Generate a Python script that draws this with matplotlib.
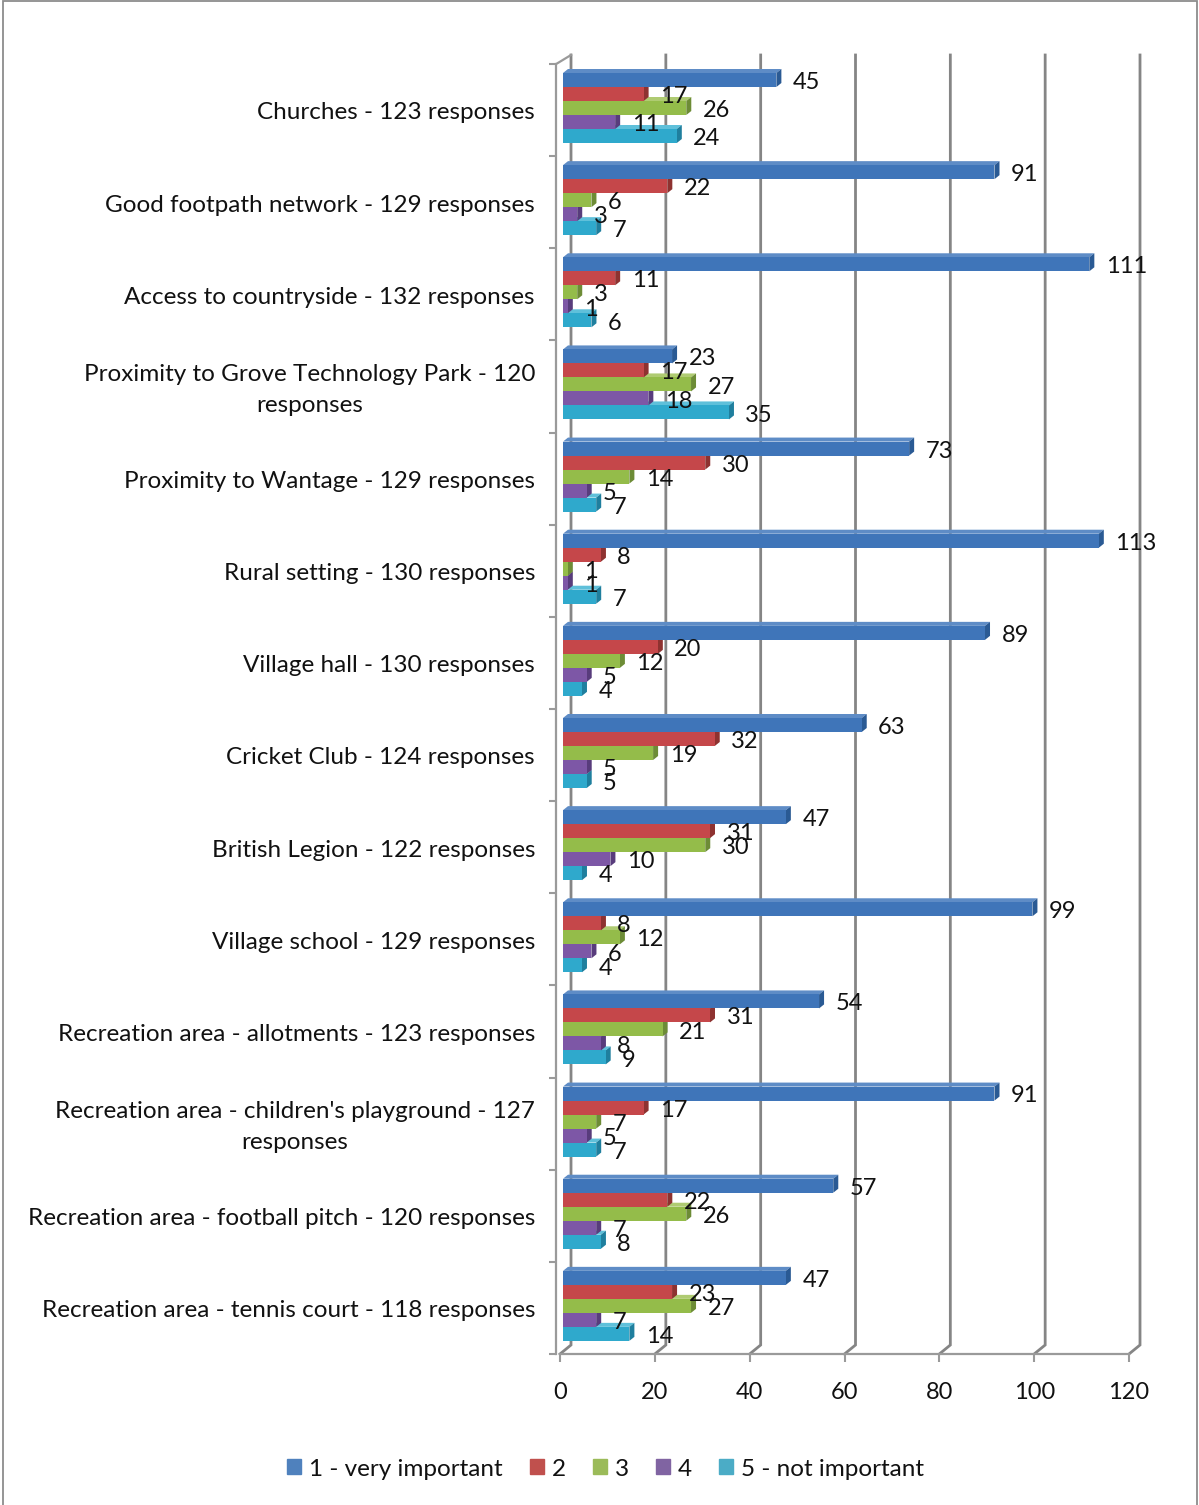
import matplotlib
matplotlib.use('Agg')
import matplotlib.pyplot as plt
from matplotlib.patches import Patch, Rectangle

categories = [
    'Churches - 123 responses',
    'Good footpath network - 129 responses',
    'Access to countryside - 132 responses',
    'Proximity to Grove Technology Park - 120\nresponses',
    'Proximity to Wantage - 129 responses',
    'Rural setting - 130 responses',
    'Village hall - 130 responses',
    'Cricket Club - 124 responses',
    'British Legion - 122 responses',
    'Village school - 129 responses',
    'Recreation area - allotments - 123 responses',
    "Recreation area - children's playground - 127\nresponses",
    'Recreation area - football pitch - 120 responses',
    'Recreation area - tennis court - 118 responses',
]
very_important = [45, 91, 111, 23, 73, 113, 89, 63, 47, 99, 54, 91, 57, 47]
two = [17, 22, 11, 17, 30, 8, 20, 32, 31, 8, 31, 17, 22, 23]
three = [26, 6, 3, 27, 14, 1, 12, 19, 30, 12, 21, 7, 26, 27]
four = [11, 3, 1, 18, 5, 1, 5, 5, 10, 6, 8, 5, 7, 7]
not_important = [24, 7, 6, 35, 7, 7, 4, 5, 4, 4, 9, 7, 8, 14]

series = [very_important, two, three, four, not_important]
names = ['1 - very important', '2', '3', '4', '5 - not important']
face_colors = ['#3F75B9', '#C5474A', '#94BC4A', '#7D57A6', '#2FA9CC']
side_colors = ['#2A5A94', '#8E3230', '#6D8C36', '#583C7C', '#1F7F9E']
top_colors = ['#5E8CC6', '#D06B68', '#AFCB72', '#9A7DBC', '#5FC0DA']
legend_colors = ['#4F81BD', '#C0504D', '#9BBB59', '#8064A2', '#4BACC6']
xticks = [0, 20, 40, 60, 80, 100, 120]

W, H = 1199, 1505
PX_X = 4.74     # pixels per value unit
PX_Y = 92.14    # pixels per category

plt.rcParams['font.family'] = ['Lato', 'DejaVu Sans']
fig = plt.figure(figsize=(W / 100, H / 100), dpi=100)
ax = fig.add_axes([560 / W, 1 - 1354 / H, 569 / W, 1290 / H])
ax.set_xlim(0, 120)
ax.set_ylim(14, 0)

# outer chart frame
fig.add_artist(Rectangle((3 / W, -0.01), 1194 / W, 1.0095, transform=fig.transFigure,
                         fill=False, ec='#8C8C8C', lw=1.3))

# back wall gridlines with the little 3d floor step
back_x = 11 / PX_X
back_y = 9 / PX_Y
for x in xticks:
    ax.plot([x + back_x, x + back_x, x], [-back_y, 14 - back_y, 14],
            color='#858585', lw=2, zorder=1, clip_on=False, solid_joinstyle='miter')
ax.plot([-0.8, back_x], [0, -back_y], color='#9A9A9A', lw=1.6, zorder=1, clip_on=False)

# bars, drawn bottom up so each front face covers the cap of the bar below
bar_h = 14 / PX_Y
start = 9 / PX_Y
base = 3 / PX_X
side = 5 / PX_X
cap = 4 / PX_Y
for j in range(4, -1, -1):
    for i, v in enumerate(series[j]):
        top = i + start + j * bar_h
        end = v + base
        ax.fill([base, base + side, end + side, end], [top, top - cap, top - cap, top],
                color=top_colors[j], lw=0, zorder=3 + (4 - j))
        ax.fill([end, end + side, end + side, end],
                [top, top - cap, top + bar_h - cap, top + bar_h],
                color=side_colors[j], lw=0, zorder=3 + (4 - j))
        ax.barh(top + bar_h / 2, v, height=bar_h, left=base, color=face_colors[j],
                lw=0, zorder=3 + (4 - j))
        ax.text(v + 4.1, i + 0.2 + j * 0.153, str(v), fontsize=17, ha='left',
                va='center', color='#111111', zorder=20, clip_on=False)

for s in ['top', 'right']:
    ax.spines[s].set_visible(False)
ax.spines['left'].set_position(('outward', 3))
ax.spines['left'].set_color('#9A9A9A')
ax.spines['left'].set_linewidth(1.6)
ax.spines['bottom'].set_color('#9A9A9A')
ax.spines['bottom'].set_linewidth(1.6)

ax.set_xticks(xticks)
ax.tick_params(axis='x', length=6, width=1.5, color='#9A9A9A', labelsize=17, pad=14,
               labelcolor='#111111')
ax.set_yticks(range(15))
ax.set_yticklabels([])
ax.tick_params(axis='y', which='major', length=5, width=1.5, color='#9A9A9A')
# wrapped labels sit a bit higher than the single line ones
label_pos = [i + (0.46 if '\n' in c else 0.51) for i, c in enumerate(categories)]
ax.set_yticks(label_pos, minor=True)
ax.set_yticklabels(categories, minor=True, fontsize=17.5, color='#111111', ma='center',
                   linespacing=1.62)
ax.tick_params(axis='y', which='minor', length=0, pad=15)

handles = [Patch(color=c, label=n) for c, n in zip(legend_colors, names)]
fig.legend(handles=handles, loc='center', bbox_to_anchor=(605.5 / W, 1 - 1469 / H), ncol=5,
           frameon=False, fontsize=17.5, handlelength=0.58, handleheight=0.58,
           handletextpad=0.33, columnspacing=1.1, labelcolor='#111111')

fig.savefig('out.png', dpi=100)
